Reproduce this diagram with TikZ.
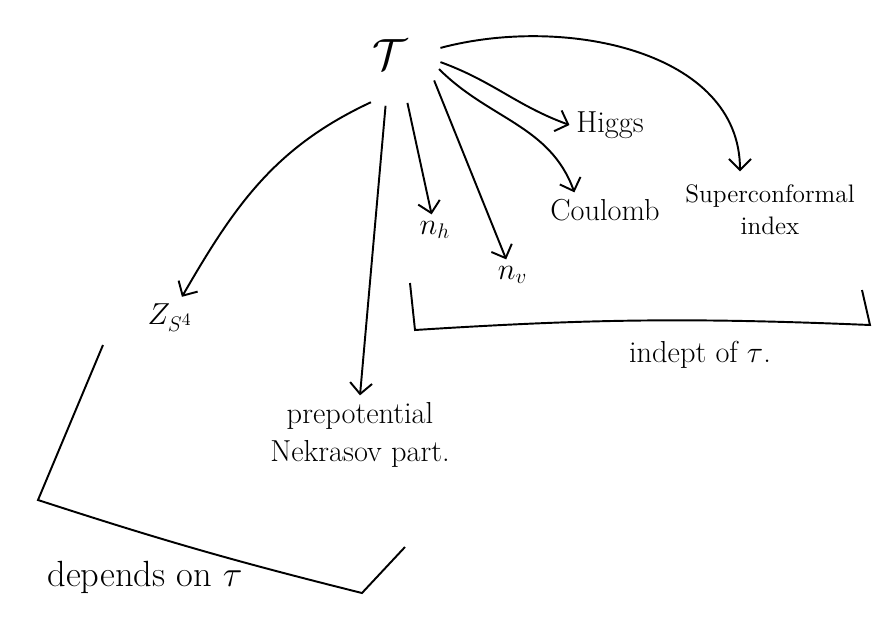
\documentclass[tikz,border=0pt]{standalone}
\usepackage{tikz}
\usetikzlibrary{arrows.meta,positioning}

\begin{document}
\begin{tikzpicture}[on grid,line width=1.1pt,>={Straight Barb[length=2.2mm,width=4.4mm]}]
  \tikzstyle{every node}=[font=\LARGE,align=center]
  \useasboundingbox (0,0) rectangle (17.48,-12.46);

  \node[circle,minimum size=2cm,font=\fontsize{40}{40}\selectfont] (T) at (7.8,-1.1) {$\mathcal{T}$};
  \node (H)  [below right=1.4cm and 4.4cm of T]  {Higgs};
  \node (C)  [below right=3.1cm and 4.3cm of T]  {Coulomb};
  \node (S)  [below right=3.1cm and 7.6cm of T,font=\Large] {Superconformal\\index};
  \node (nh) [below right=3.5cm and 0.9cm of T]  {$n_h$};
  \node (nv) [below right=4.4cm and 2.45cm of T] {$n_v$};
  \node (Z)  [below left=5.25cm and 4.4cm of T]  {$Z_{S^4}$};
  \node (P)  [below left=7.6cm and 0.6cm of T]   {prepotential\\Nekrasov part.};
  \node (I)  [below right=6.0cm and 6.2cm of T]  {indept of $\tau$.};
  \node (D)  [below left=10.45cm and 4.9cm of T,font=\huge] {depends on $\tau$};

  \path[->]
  (T.248) edge [out=205,in=60]              (Z)
  (T.265) edge                              (P.north)
  (T.290) edge                              (nh)
  (T.330) edge                              (nv)
  (T.344) edge [out=-45,in=110]             (C.150)
  (T.352) edge [out=-20,in=160]             (H.west)
  (T.8)   edge [out=15,in=90,shorten >=4pt] ([xshift=-0.6cm]S.north);

  % brackets
  \draw (8.2,-5.66) -- (8.3,-6.6) to[bend left=3] (17.4,-6.5) -- (17.24,-5.8);
  \draw (2.06,-6.9) -- (0.76,-10) to[bend right=2] (7.24,-11.86) -- (8.1,-10.94);
\end{tikzpicture}
\end{document}
